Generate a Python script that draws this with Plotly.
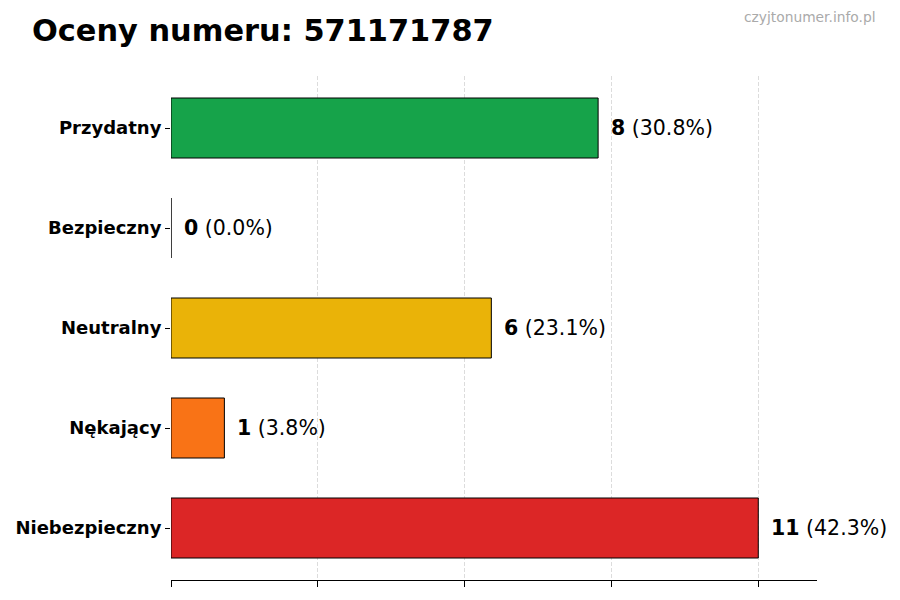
import plotly.graph_objects as go

# dane
categories = ["Przydatny", "Bezpieczny", "Neutralny", "Nękający", "Niebezpieczny"]
counts = [8, 0, 6, 1, 11]
percents = [30.8, 0.0, 23.1, 3.8, 42.3]
colors = ["#16a34a", "#2563eb", "#eab308", "#f97316", "#dc2626"]
grid_ticks = [0, 2.75, 5.5, 8.25, 11]
phone = "571171787"

font = "DejaVu Sans"

fig = go.Figure()
fig.add_trace(go.Bar(
    x=counts,
    y=categories,
    orientation="h",
    width=0.6,
    marker=dict(color=colors, line=dict(color="black", width=1)),
    hoverinfo="skip",
))

# etykiety przy słupkach
for c, n, p in zip(categories, counts, percents):
    fig.add_annotation(
        x=n, y=c, xref="x", yref="y",
        text=f"<b>{n}</b> ({p:.1f}%)",
        showarrow=False, xanchor="left", xshift=11,
        font=dict(family=font, size=20.5, color="black"),
    )

# znak wodny
fig.add_annotation(
    xref="paper", yref="paper", x=1.0, y=1.0,
    xanchor="right", yanchor="middle", xshift=61, yshift=59,
    text="czyjtonumer.info.pl", showarrow=False,
    font=dict(family=font, size=13.8, color="#aaaaaa"),
)

fig.update_layout(
    width=900, height=600,
    margin=dict(l=163, r=91, t=68, b=28),
    paper_bgcolor="white", plot_bgcolor="white",
    showlegend=False,
    title=dict(
        text=f"<b>Oceny numeru: {phone}</b>",
        x=24 / 900, xanchor="left", y=1 - 22 / 600, yanchor="middle",
        xref="container", yref="container",
        font=dict(family=font, size=30.4, color="black"),
    ),
    font=dict(family=font),
)

fig.update_xaxes(
    range=[0, 12.1],
    tickvals=grid_ticks, showticklabels=False,
    ticks="outside", ticklen=6, tickcolor="black",
    showgrid=True, gridcolor="#dcdcdc", griddash="4px,2px", gridwidth=1,
    showline=True, linecolor="black", linewidth=1,
    zeroline=False, automargin=False,
)
fig.update_yaxes(
    autorange=False, range=[4.52, -0.52],
    categoryorder="array", categoryarray=categories,
    ticks="outside", ticklen=5, tickcolor="black",
    tickfont=dict(family=font, size=18, color="black", weight="bold"),
    showline=False, showgrid=False, zeroline=False, automargin=False,
)

fig.write_html("out.html")
